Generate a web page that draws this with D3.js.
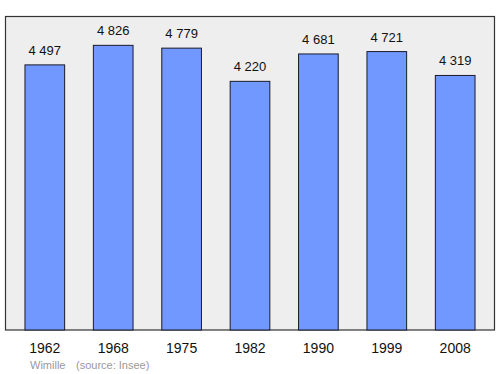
<!DOCTYPE html>
<html>
<head>
<meta charset="utf-8">
<script src="https://cdn.jsdelivr.net/npm/d3@7"></script>
<style>
  body { margin: 0; background: #fff; }
  svg text { font-family: "Liberation Sans", Arial, sans-serif; }
</style>
</head>
<body>
<div id="canvas"></div>
<script>
// population data
var years = ['1962', '1968', '1975', '1982', '1990', '1999', '2008'];
var population = [4497, 4826, 4779, 4220, 4681, 4721, 4319];
var labels = ['4 497', '4 826', '4 779', '4 220', '4 681', '4 721', '4 319'];

var W = 500, H = 374;
var m = {t:16, r:5, b:44, l:5};

var svg = d3.select('#canvas')
    .append('svg')
    .attr('width', W)
    .attr('height', H);

var x = d3.scaleBand()
    .domain(years)
    .range([m.l, W - m.r])
    .paddingInner(0.42)
    .paddingOuter(0.292);

var y = d3.scaleLinear()
    .domain([0, 5320])
    .range([332, m.t]);

// panel
svg.append('rect')
    .attr('x', m.l + 0.5)
    .attr('y', m.t + 0.5)
    .attr('width', W - m.l - m.r - 1)
    .attr('height', H - m.b - m.t - 0.5)
    .attr('fill', '#eeeeee')
    .attr('stroke', '#333')
    .attr('stroke-width', 1.2);

var bars = svg.selectAll('.bar')
    .data(years)
    .enter()
    .append('g')
    .attr('class', 'bar');

bars.append('rect')
    .attr('x', function(d){ return x(d); })
    .attr('y', function(d, i){ return y(population[i]); })
    .attr('width', x.bandwidth())
    .attr('height', function(d, i){ return H - m.b - y(population[i]); })
    .attr('fill', '#7198ff')
    .attr('stroke', '#1a1a2a')
    .attr('stroke-width', 1);

bars.append('text')
    .attr('x', function(d){ return x(d) + x.bandwidth()/2; })
    .attr('y', function(d, i){ return y(population[i]) - 10; })
    .attr('text-anchor', 'middle')
    .attr('font-size', 13)
    .attr('fill', '#111')
    .text(function(d, i){ return labels[i]; });

// year axis
var axisX = d3.axisBottom(x).tickSize(0).tickPadding(10);
var gx = svg.append('g')
    .attr('transform', 'translate(0,' + (H - m.b) + ')')
    .call(axisX);
gx.select('.domain').remove();
gx.selectAll('text')
    .attr('font-size', 14)
    .attr('font-family', '"Liberation Sans", Arial, sans-serif')
    .attr('fill', '#111')
    .attr('dy', '0.9em');

svg.append('text')
    .attr('x', 30)
    .attr('y', 369)
    .attr('font-size', 11)
    .attr('fill', '#999')
    .text('Wimille');
svg.append('text')
    .attr('x', 76)
    .attr('y', 369)
    .attr('font-size', 11)
    .attr('fill', '#999')
    .text('(source: Insee)');
</script>
</body>
</html>
